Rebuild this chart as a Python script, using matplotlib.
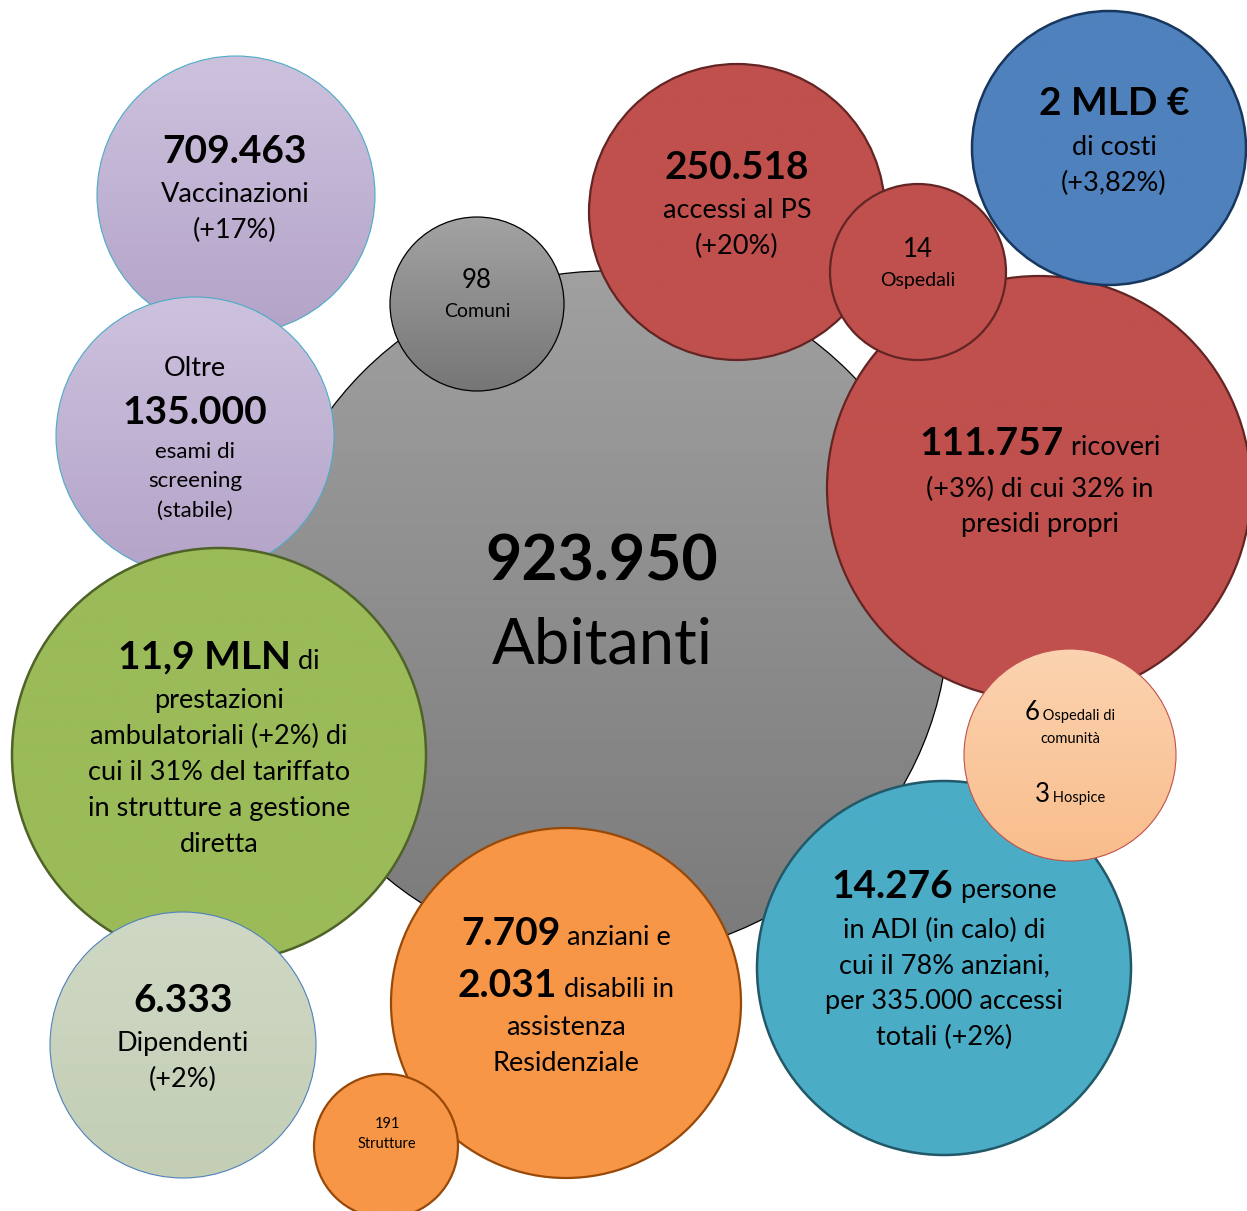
import numpy as np
import matplotlib
matplotlib.use("Agg")
import matplotlib.pyplot as plt
from matplotlib.patches import Circle
from matplotlib.colors import to_rgb

# ---------------- data (values read from the infographic) ----------------
abitanti = "923.950"
comuni = "98"
vaccinazioni = "709.463"
vacc_var = "(+17%)"
screening = "135.000"
screening_var = "(stabile)"
prestazioni = "11,9 MLN"
prest_var = "(+2%)"
prest_quota = "31%"
dipendenti = "6.333"
dip_var = "(+2%)"
strutture = "191"
anziani = "7.709"
disabili = "2.031"
adi = "14.276"
adi_quota = "78%"
adi_accessi = "335.000"
adi_var = "(+2%)"
osp_comunita = "6"
hospice = "3"
ricoveri = "111.757"
ric_var = "(+3%)"
ric_quota = "32%"
accessi_ps = "250.518"
ps_var = "(+20%)"
ospedali = "14"
costi = "2 MLD €"
costi_var = "(+3,82%)"

# ---------------- layout / style ----------------
W, H = 1247, 1211
FONT = "Lato"
B, R = True, False
HB, BODY, SMALL = 28, 19.5, 16

fig = plt.figure(figsize=(W / 100, H / 100), dpi=100)
ax = fig.add_axes([0, 0, 1, 1])
ax.set_axis_off()
renderer = fig.canvas.get_renderer()

z = [1]


def bubble(cx, cy, r, top, bottom, edge, lw):
    zz = z[0]
    t = np.array(to_rgb(top))
    b = np.array(to_rgb(bottom))
    f = np.linspace(0, 1, 256)[:, None, None]
    img = t[None, None, :] * (1 - f) + b[None, None, :] * f
    img = np.repeat(img, 2, axis=1)
    im = ax.imshow(img, extent=(cx - r, cx + r, cy + r, cy - r), origin="upper",
                   interpolation="bilinear", zorder=zz, aspect="auto")
    clip = Circle((cx, cy), r, transform=ax.transData, facecolor="none", edgecolor="none")
    ax.add_patch(clip)
    im.set_clip_path(clip)
    ax.add_patch(Circle((cx, cy), r, facecolor="none", edgecolor=edge, linewidth=lw,
                        zorder=zz + 0.5))
    z[0] += 1


def line(x, y, runs):
    """runs: list of (text, size_pt, bold); x = centre, y = centre of cap height."""
    maxs = max(s for _, s, _ in runs)
    base = y + 0.358 * maxs * 100 / 72
    objs, widths = [], []
    for txt, s, bold in runs:
        t = ax.text(0, base, txt, fontsize=s, fontfamily=FONT,
                    fontweight="bold" if bold else "normal", ha="left", va="baseline",
                    color="black", zorder=100)
        objs.append(t)
        widths.append(t.get_window_extent(renderer).width)
    total = sum(widths)
    xx = x - total / 2
    for t, w in zip(objs, widths):
        t.set_x(xx)
        xx += w


ax.set_xlim(0, W)
ax.set_ylim(H, 0)

# bubbles, in stacking order
bubble(606, 614, 343, "#a0a0a0", "#7a7a7a", "black", 0.9)
bubble(477, 304, 87, "#a3a3a3", "#767676", "black", 0.9)
bubble(236, 195, 139, "#cdc2de", "#b3a3c8", "#4bacc6", 0.8)
bubble(195, 436, 139, "#cdc2de", "#b3a3c8", "#4bacc6", 0.8)
bubble(219, 755, 207, "#9bbb59", "#9bbb59", "#4f6228", 1.8)
bubble(183, 1045, 133, "#cfd8c4", "#c3ceb5", "#4f81bd", 0.8)
bubble(566, 1003, 175, "#f79646", "#f79646", "#984807", 1.6)
bubble(386, 1146, 72, "#f79646", "#f79646", "#984807", 1.6)
bubble(944, 968, 187, "#4bacc6", "#4bacc6", "#215968", 1.8)
bubble(1039, 488, 212, "#c0504d", "#c0504d", "#632523", 1.6)
bubble(737, 212, 148, "#c0504d", "#c0504d", "#632523", 1.6)
bubble(918, 272, 88, "#c0504d", "#c0504d", "#632523", 1.6)
bubble(1109, 148, 137, "#4f81bd", "#4f81bd", "#17375e", 1.8)
bubble(1070, 755, 106, "#fbd3b0", "#f9bd8c", "#c0504d", 0.8)

ax.set_xlim(0, W)
ax.set_ylim(H, 0)

# ---------------- texts ----------------
line(602, 558, [(abitanti, 45, B)])
line(602, 641, [("Abitanti", 45.5, R)])

line(477, 279, [(comuni, 18.5, R)])
line(477, 310, [("Comuni", 14, R)])

line(235, 149, [(vaccinazioni, HB, B)])
line(235, 192, [("Vaccinazioni", BODY, R)])
line(235, 228, [(vacc_var, BODY, R)])

line(195, 366, [("Oltre", BODY, R)])
line(195, 410, [(screening, HB, B)])
line(195, 450, [("esami di", SMALL, R)])
line(195, 479, [("screening", SMALL, R)])
line(195, 509, [(screening_var, SMALL, R)])

line(219, 655, [(prestazioni, HB, B), (" di", BODY, R)])
line(219, 698, [("prestazioni", BODY, R)])
line(219, 734, [("ambulatoriali " + prest_var + " di", BODY, R)])
line(219, 770, [("cui il " + prest_quota + " del tariffato", BODY, R)])
line(219, 806, [("in strutture a gestione", BODY, R)])
line(219, 842, [("diretta", BODY, R)])

line(183, 998, [(dipendenti, HB, B)])
line(183, 1041, [("Dipendenti", BODY, R)])
line(183, 1077, [(dip_var, BODY, R)])

line(387, 1123, [(strutture, 10.5, R)])
line(387, 1143, [("Strutture", 10.5, R)])

line(566, 931, [(anziani, HB, B), (" anziani e", BODY, R)])
line(566, 983, [(disabili, HB, B), (" disabili in", BODY, R)])
line(566, 1025, [("assistenza", BODY, R)])
line(566, 1061, [("Residenziale", BODY, R)])

line(944, 884, [(adi, HB, B), (" persone", BODY, R)])
line(944, 928, [("in ADI (in calo) di", BODY, R)])
line(944, 964, [("cui il " + adi_quota + " anziani,", BODY, R)])
line(944, 999, [("per " + adi_accessi + " accessi", BODY, R)])
line(944, 1035, [("totali " + adi_var, BODY, R)])

line(1070, 711, [(osp_comunita, 18.5, R), (" Ospedali di", 10.5, R)])
line(1070, 738, [("comunità", 10.5, R)])
line(1070, 793, [(hospice, 18.5, R), (" Hospice", 10.5, R)])

line(1040, 441, [(ricoveri, HB, B), (" ricoveri", BODY, R)])
line(1040, 487, [(ric_var + " di cui " + ric_quota + " in", BODY, R)])
line(1040, 522, [("presidi propri", BODY, R)])

line(737, 165, [(accessi_ps, HB, B)])
line(737, 208, [("accessi al PS", BODY, R)])
line(737, 244, [(ps_var, BODY, R)])

line(918, 248, [(ospedali, 18.5, R)])
line(918, 279, [("Ospedali", 14, R)])

line(1114, 101, [(costi, HB, B)])
line(1114, 145, [("di costi", BODY, R)])
line(1114, 181, [(costi_var, BODY, R)])

fig.savefig("out.png", dpi=100)
